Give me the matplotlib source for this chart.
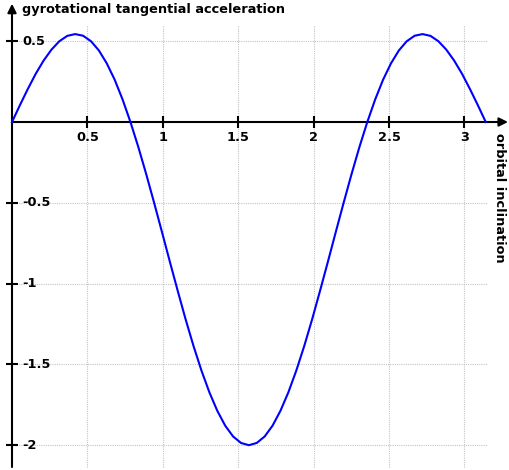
import numpy as np
import matplotlib
matplotlib.use('Agg')
import matplotlib.pyplot as plt

# inclination in degrees (3 deg steps), acceleration
incl_deg = np.arange(0, 181, 3)
accel = [0.000, 0.104, 0.204, 0.298, 0.380, 0.448, 0.500, 0.533, 0.544, 0.534,
         0.500, 0.443, 0.363, 0.262, 0.140, 0.000, -0.155, -0.323, -0.500, -0.682,
         -0.866, -1.047, -1.223, -1.388, -1.539, -1.673, -1.787, -1.879, -1.946, -1.986,
         -2.000,
         -1.986, -1.946, -1.879, -1.787, -1.673, -1.539, -1.388, -1.223, -1.047, -0.866,
         -0.682, -0.500, -0.323, -0.155, 0.000, 0.140, 0.262, 0.363, 0.443, 0.500,
         0.534, 0.544, 0.533, 0.500, 0.448, 0.380, 0.298, 0.204, 0.104, 0.000]

xticks = [0.5, 1, 1.5, 2, 2.5, 3]
xtick_labels = ['0.5', '1', '1.5', '2', '2.5', '3']
yticks = [0.5, -0.5, -1, -1.5, -2]
ytick_labels = ['0.5', '-0.5', '-1', '-1.5', '-2']

xlabel = 'orbital inclination'
ylabel = 'gyrotational tangential acceleration'

fig = plt.figure(figsize=(5.09, 4.70), dpi=100)
ax = fig.add_axes([0, 0, 1, 1])
ax.axis('off')
ax.set_xlim(-0.0796, 3.2958)
ax.set_ylim(-2.1535, 0.755)

x = np.radians(incl_deg)
x_end = np.pi
y_top, y_bot = 0.60, -2.135

# dotted grid
grid_kw = dict(color='#c4c4c4', lw=0.8, linestyle=(0, (1, 1)), zorder=1)
ax.hlines(yticks, 0, x_end + 0.01, **grid_kw)
ax.vlines(xticks, y_bot, y_top, **grid_kw)

# axes with arrows
arrow_kw = dict(arrowstyle='-|>', lw=1.5, color='black', mutation_scale=13,
                shrinkA=0, shrinkB=0)
ax.annotate('', xy=(3.289, 0), xytext=(0, 0), arrowprops=arrow_kw, zorder=3)
ax.annotate('', xy=(0, 0.732), xytext=(0, y_bot), arrowprops=arrow_kw, zorder=3)

# tick marks
ax.plot(xticks, [0] * len(xticks), linestyle='none', marker='|', ms=8, mew=1.5,
        color='black', zorder=3)
ax.plot([0] * len(yticks), yticks, linestyle='none', marker='_', ms=8, mew=1.5,
        color='black', zorder=3)

font = dict(family='DejaVu Sans', weight='bold', size=9.3)
for xt, lab in zip(xticks, xtick_labels):
    ax.text(xt, -0.093, lab, ha='center', va='center', **font)
for yt, lab in zip(yticks, ytick_labels):
    ax.text(0.066, yt, lab, ha='left', va='center', **font)

ax.text(0.066, 0.699, ylabel, ha='left', va='center', **font)
ax.text(3.236, -0.068, xlabel, ha='center', va='top', rotation=270, **font)

ax.plot(x, accel, color='#0000ff', lw=1.5, zorder=4)

fig.savefig('out.png', dpi=100, facecolor='white')
plt.close(fig)
